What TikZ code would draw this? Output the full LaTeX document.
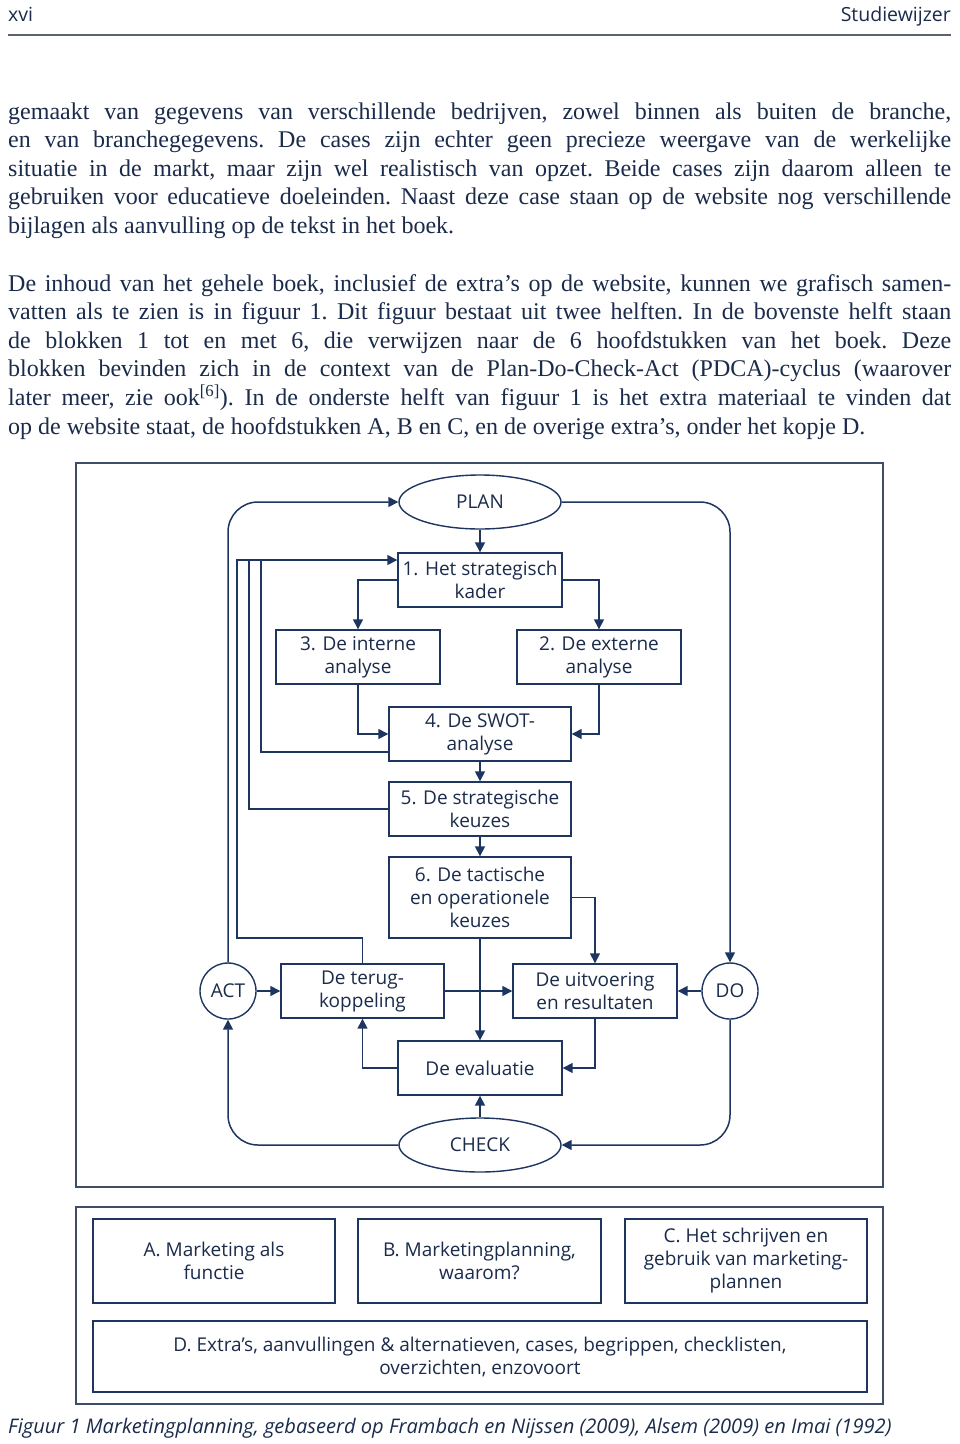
\documentclass[tikz,border=0pt]{standalone}
\usepackage{fontspec}
\setmainfont{Liberation Serif}
\setsansfont{Open Sans}
\usetikzlibrary{arrows.meta,shapes.geometric,calc}
\definecolor{navy}{HTML}{1E3560}
\definecolor{ink}{HTML}{1B2B4B}
\definecolor{frame}{HTML}{3E4E66}
\definecolor{rulegray}{HTML}{5B6270}
\begin{document}
\begin{tikzpicture}[x=1pt,y=-1pt,
  sf/.style={font=\sffamily\fontsize{19}{23}\selectfont, text=ink},
  box/.style={sf, draw=navy, line width=1.4pt, align=center, inner sep=0pt, minimum height=54pt},
  oval/.style={sf, draw=navy, line width=1.4pt, ellipse, inner sep=0pt, minimum width=162pt, minimum height=54pt},
  circ/.style={sf, draw=navy, line width=1.4pt, circle, inner sep=0pt, minimum size=56pt},
  conn/.style={draw=navy, line width=1.5pt},
  arr/.style={conn, -{Triangle[length=10pt,width=10pt]}},
  loopc/.style={arr, rounded corners=30pt},
  outer/.style={draw=frame, line width=1.6pt},
  bodytext/.style={anchor=base west, inner sep=0pt, text width=943pt, align=justify, text=ink,
    font=\rmfamily\fontsize{24}{28.6}\selectfont},
]
\fill[white] (0,0) rectangle (960,1444);
\useasboundingbox (0,0) rectangle (960,1444);

% header
\node[anchor=base west, inner sep=0pt, text=ink, font=\sffamily\fontsize{19.5}{23}\selectfont] (hl) at (8,21) {xvi};
\node[anchor=base east, inner sep=0pt, text=ink, font=\sffamily\fontsize{19.5}{23}\selectfont] (hr) at (951,21) {Studiewijzer};
\draw[rulegray, line width=2.5pt] (8,35) -- (951,35);

% body text
\node[bodytext] (p1) at (8,119) {\frenchspacing\tolerance=9999\hbadness=10000\hyphenpenalty=10000\exhyphenpenalty=10000
gemaakt van gegevens van verschillende bedrijven, zowel binnen als buiten de branche,\linebreak
en van branchegegevens. De cases zijn echter geen precieze weergave van de werkelijke\linebreak
situatie in de markt, maar zijn wel realistisch van opzet. Beide cases zijn daarom alleen te\linebreak
gebruiken voor educatieve doeleinden. Naast deze case staan op de website nog verschillende\linebreak
bijlagen als aanvulling op de tekst in het boek.};

\node[bodytext] (p2) at (8,291) {\frenchspacing\tolerance=9999\hbadness=10000\hyphenpenalty=10000\exhyphenpenalty=10000\parfillskip=0pt
De inhoud van het gehele boek, inclusief de extra’s op de website, kunnen we grafisch samen-\linebreak
vatten als te zien is in figuur 1. Dit figuur bestaat uit twee helften. In de bovenste helft staan\linebreak
de blokken 1 tot en met 6, die verwijzen naar de 6 hoofdstukken van het boek. Deze\linebreak
blokken bevinden zich in de context van de Plan-Do-Check-Act (PDCA)-cyclus (waarover\linebreak
later meer, zie ook\textsuperscript{[6]}). In de onderste helft van figuur 1 is het extra materiaal te vinden dat\linebreak
op de website staat, de hoofdstukken A, B en C, en de overige extra’s, onder het kopje D.};

% frames
\draw[outer] (76,463) rectangle (883,1187);
\draw[outer] (76,1207) rectangle (883,1404);

% diagram nodes
\node[oval] (plan) at (480,502) {PLAN};
\node[box, minimum width=164pt] (b1) at (480,580) {1. Het strategisch\\kader};
\node[box, minimum width=164pt] (b3) at (358,657) {3. De interne\\analyse};
\node[box, minimum width=164pt] (b2) at (599,657) {2. De externe\\analyse};
\node[box, minimum width=182pt] (b4) at (480,734) {4. De SWOT-\\analyse};
\node[box, minimum width=182pt] (b5) at (480,809) {5. De strategische\\keuzes};
\node[box, minimum width=182pt, minimum height=81pt] (b6) at (480,897.5) {6. De tactische\\en operationele\\keuzes};
\node[circ] (act) at (228,991) {ACT};
\node[box, minimum width=163pt] (t) at (362.5,991) {De terug-\\koppeling};
\node[box, minimum width=164pt] (u) at (595,991) {De uitvoering\\en resultaten};
\node[circ] (do) at (730,991) {DO};
\node[box, minimum width=164pt] (ev) at (480,1068) {De evaluatie};
\node[oval] (check) at (480,1145) {CHECK};

% PDCA loop
\draw[loopc] (act.north) |- (plan.west);
\draw[loopc] (plan.east) -| (do.north);
\draw[loopc] (do.south) |- (check.east);
\draw[loopc] (check.west) -| (act.south);

% connectors
\draw[arr] (plan.south) -- (b1.north);
\draw[arr] (b1.west) -| (b3.north);
\draw[arr] (b1.east) -| (b2.north);
\draw[arr] (b3.south) |- (b4.west);
\draw[arr] (b2.south) |- (b4.east);
\draw[arr] (b4.south) -- (b5.north);
\draw[arr] (b5.south) -- (b6.north);
\draw[arr] (b6.east) -| (u.north);
\draw[arr] (b6.south) -- (ev.north);
\draw[arr] (act.east) -- (t.west);
\draw[arr] (t.east) -- (u.west);
\draw[arr] (do.west) -- (u.east);
\draw[arr] (u.south) |- (ev.east);
\draw[arr] (ev.west) -| (t.south);
\draw[arr] (check.north) -- (ev.south);

% feedback lines into box 1
\coordinate (fbin) at ([yshift=20pt]b1.west);
\draw[arr] ([yshift=-18pt]b4.west) -| (261,560) -- (fbin);
\draw[conn] (b5.west) -| (249,560);
\draw[conn] (t.north) |- (237,938) -- (237,560) -- (261,560);

% lower part
\node[box, minimum width=242pt, minimum height=84pt] (ba) at (214,1261) {A. Marketing als\\functie};
\node[box, minimum width=243pt, minimum height=84pt] (bb) at (479.5,1261) {B. Marketingplanning,\\waarom?};
\node[box, minimum width=242pt, minimum height=84pt] (bc) at (746,1261) {C. Het schrijven en\\gebruik van marketing-\\plannen};
\node[box, minimum width=774pt, minimum height=71pt] (bd) at (480,1356.5) {D. Extra’s, aanvullingen \& alternatieven, cases, begrippen, checklisten,\\overzichten, enzovoort};

% caption
\node[anchor=base west, inner sep=0pt, text=ink, font=\sffamily\itshape\fontsize{20.1}{23}\selectfont] (cap) at (8,1433) {Figuur 1 Marketingplanning, gebaseerd op Frambach en Nijssen (2009), Alsem (2009) en Imai (1992)};
\end{tikzpicture}
\end{document}
